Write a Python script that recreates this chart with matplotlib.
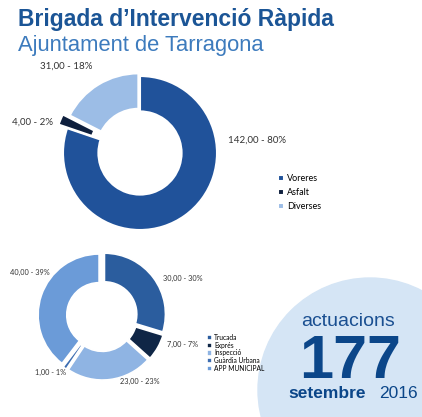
import matplotlib
matplotlib.use('Agg')
import matplotlib.pyplot as plt
from matplotlib.patches import Circle

# Data
top_labels = ['Voreres', 'Asfalt', 'Diverses']
top_values = [142, 4, 31]
top_text = ['142,00 - 80%', '4,00 - 2%', '31,00 - 18%']
top_colors = ['#20529a', '#0e1f3d', '#9cbde6']

bot_labels = ['Trucada', 'Exprés', 'Inspecció', 'Guàrdia Urbana', 'APP MUNICIPAL']
bot_values = [30, 7, 23, 1, 40]
bot_text = ['30,00 - 30%', '7,00 - 7%', '23,00 - 23%', '1,00 - 1%', '40,00 - 39%']
bot_colors = ['#2b5d9e', '#0f2646', '#8fb4e3', '#3d6db1', '#6b9bd8']

total = 177
title = 'Brigada d’Intervenció Ràpida'
subtitle = 'Ajuntament de Tarragona'

W, H = 422, 417
fig = plt.figure(figsize=(W / 100, H / 100), dpi=100)

def px(x, y):
	return x / W, 1 - y / H

# big light circle bottom right
bg = fig.add_axes([0, 0, 1, 1])
bg.set_xlim(0, W)
bg.set_ylim(H, 0)
bg.axis('off')
bg.add_patch(Circle((370, 390), 112, color='#d5e5f5', zorder=0))

# title
fig.text(*px(18, 26), title, fontsize=16.5, fontweight='bold', color='#1b5596',
	family='Liberation Sans', va='baseline')
fig.text(*px(18, 51), subtitle, fontsize=15.8, color='#3d7bbd',
	family='Liberation Sans', va='baseline')

lab_font = 'Lato'

# top donut
ax1 = fig.add_axes([63 / W, 1 - 230 / H, 154 / W, 154 / H])
w1, _ = ax1.pie(top_values, colors=top_colors, startangle=90, counterclock=False,
	explode=[0, 0.12, 0.04], wedgeprops=dict(width=0.46, edgecolor='white', linewidth=1.5))
for w in w1:
	w.set_clip_on(False)
ax1.set_xlim(-1, 1)
ax1.set_ylim(-1, 1)
ax1.set_aspect('equal')

top_pos = [(228, 143), (12, 125), (40, 69)]
for t, (x, y) in zip(top_text, top_pos):
	fig.text(*px(x, y), t, fontsize=7, color='#333333', family=lab_font, va='baseline')

fig.legend(w1, top_labels, loc='upper left', bbox_to_anchor=px(270, 166),
	frameon=False, handlelength=0.7, handleheight=0.7,
	handletextpad=0.3, labelspacing=0.55, prop={'family': lab_font, 'size': 6.5})

# bottom donut
ax2 = fig.add_axes([41 / W, 1 - 377 / H, 122 / W, 122 / H])
w2, _ = ax2.pie(bot_values, colors=bot_colors, startangle=90, counterclock=False,
	explode=[0.05] * 5, wedgeprops=dict(width=0.47, edgecolor='white', linewidth=1.2))
for w in w2:
	w.set_clip_on(False)
ax2.set_xlim(-1, 1)
ax2.set_ylim(-1, 1)
ax2.set_aspect('equal')

bot_pos = [(163, 281), (167, 347), (120, 384), (35, 375), (10, 275)]
for t, (x, y) in zip(bot_text, bot_pos):
	fig.text(*px(x, y), t, fontsize=5.3, color='#333333', family=lab_font, va='baseline')

fig.legend(w2, bot_labels, loc='upper left', bbox_to_anchor=px(201, 328),
	frameon=False, handlelength=0.8, handleheight=0.8,
	handletextpad=0.3, labelspacing=0.1, prop={'family': lab_font, 'size': 4.8})

# counter text
fig.text(*px(348, 326), 'actuacions', fontsize=14, color='#1a4f91',
	family='Liberation Sans', ha='center', va='baseline')
fig.text(*px(350, 378), str(total), fontsize=44, fontweight='bold', color='#0b4689',
	family='Liberation Sans', ha='center', va='baseline')
fig.text(*px(288, 398), 'setembre', fontsize=12.5, fontweight='bold', color='#0b4689',
	family='Liberation Sans', va='baseline')
fig.text(*px(418, 398), '2016', fontsize=12.5, color='#0b4689',
	family='Liberation Sans', ha='right', va='baseline')

fig.savefig('out.png', dpi=100)
